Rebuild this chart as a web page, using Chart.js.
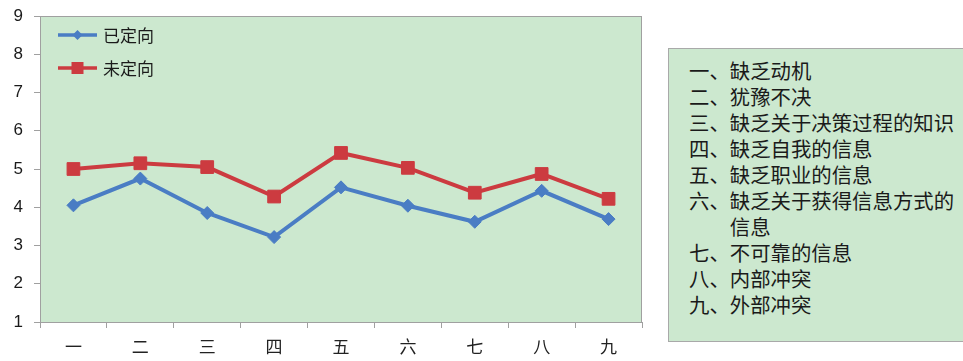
<!DOCTYPE html>
<html>
<head>
<meta charset="utf-8">
<script src="https://cdn.jsdelivr.net/npm/chart.js@4/dist/chart.umd.min.js"></script>
<style>
  html, body { margin: 0; padding: 0; background: #ffffff; }
  #wrap { position: relative; width: 963px; height: 361px; overflow: hidden; }
  #c { position: absolute; left: 0; top: 0; }
  #notes {
    position: absolute; left: 668px; top: 48px; width: 310px; height: 294px;
    background: #cce8cf; border: 1px solid #a9a9a9; box-sizing: border-box;
    padding: 8px 0 0 20px;
    font-family: "Noto Sans CJK SC", sans-serif; font-size: 20.4px; line-height: 26px; color: #1a1a1a;
  }
  #notes div { width: 232px; padding-left: 2em; text-indent: -2em; }
</style>
</head>
<body>
<div id="wrap">
  <canvas id="c" width="963" height="361"></canvas>
  <div id="notes"></div>
</div>
<script>
const categories = ['一', '二', '三', '四', '五', '六', '七', '八', '九'];
const seriesNames = ['已定向', '未定向'];
const orientedValues = [4.05, 4.75, 3.85, 3.22, 4.52, 4.04, 3.62, 4.43, 3.69];
const unorientedValues = [5.00, 5.15, 5.05, 4.28, 5.42, 5.03, 4.38, 4.87, 4.22];
const yMin = 1;
const yMax = 9;
const yStep = 1;
const noteLines = [
  '一、缺乏动机',
  '二、犹豫不决',
  '三、缺乏关于决策过程的知识',
  '四、缺乏自我的信息',
  '五、缺乏职业的信息',
  '六、缺乏关于获得信息方式的信息',
  '七、不可靠的信息',
  '八、内部冲突',
  '九、外部冲突'
];

const notesEl = document.getElementById('notes');
noteLines.forEach(t => {
  const d = document.createElement('div');
  d.textContent = t;
  notesEl.appendChild(d);
});

const BLUE = '#4a7dc4';
const RED = '#cc3b40';
const PLOT_BG = '#cce8cf';
const BORDER = '#a0a0a0';

const areaPlugin = {
  id: 'areaPlugin',
  beforeDraw(chart) {
    const a = chart.chartArea;
    const ctx = chart.ctx;
    ctx.save();
    ctx.fillStyle = PLOT_BG;
    ctx.fillRect(a.left, a.top, a.right - a.left, a.bottom - a.top);
    ctx.restore();
  },
  afterDraw(chart) {
    const a = chart.chartArea;
    const ctx = chart.ctx;
    ctx.save();
    ctx.strokeStyle = BORDER;
    ctx.lineWidth = 1;
    ctx.strokeRect(a.left + 0.5, a.top + 0.5, a.right - a.left - 1, a.bottom - a.top);
    // legend
    const items = chart.data.datasets;
    const x0 = a.left + 18, x1 = a.left + 57;
    items.forEach((ds, i) => {
      const y = a.top + 19 + i * 33;
      ctx.strokeStyle = ds.borderColor;
      ctx.lineWidth = 3.5;
      ctx.beginPath();
      ctx.moveTo(x0, y);
      ctx.lineTo(x1, y);
      ctx.stroke();
      const cx = (x0 + x1) / 2;
      ctx.fillStyle = ds.pointBackgroundColor;
      ctx.beginPath();
      if (ds.pointStyle === 'rect') {
        ctx.rect(cx - 6, y - 6, 12, 12);
      } else {
        const r = 5;
        ctx.moveTo(cx, y - r); ctx.lineTo(cx + r, y); ctx.lineTo(cx, y + r); ctx.lineTo(cx - r, y);
        ctx.closePath();
      }
      ctx.fill();
      ctx.fillStyle = '#1a1a1a';
      ctx.font = '17px "Noto Sans CJK SC", sans-serif';
      ctx.textBaseline = 'middle';
      ctx.textAlign = 'left';
      ctx.fillText(ds.label, x1 + 6, y + 1);
    });
    ctx.restore();
  }
};

new Chart(document.getElementById('c'), {
  type: 'line',
  data: {
    labels: categories,
    datasets: [
      {
        label: seriesNames[0],
        data: orientedValues,
        borderColor: BLUE,
        backgroundColor: BLUE,
        pointBackgroundColor: BLUE,
        pointBorderColor: BLUE,
        borderWidth: 4,
        pointStyle: 'rectRot',
        pointRadius: 6.5,
        pointBorderWidth: 1,
        tension: 0
      },
      {
        label: seriesNames[1],
        data: unorientedValues,
        borderColor: RED,
        backgroundColor: RED,
        pointBackgroundColor: RED,
        pointBorderColor: RED,
        borderWidth: 4,
        pointStyle: 'rect',
        pointRadius: 9,
        pointBorderWidth: 1,
        tension: 0
      }
    ]
  },
  options: {
    responsive: false,
    animation: false,
    devicePixelRatio: 1,
    layout: { padding: { left: 0, top: 16, right: 321, bottom: 0 } },
    plugins: { legend: { display: false }, tooltip: { enabled: false } },
    scales: {
      x: {
        offset: true,
        grid: { display: true, drawOnChartArea: false, drawTicks: true, tickLength: 6, color: BORDER, offset: true },
        border: { display: true, color: BORDER },
        ticks: { color: '#222', font: { family: '"Noto Sans CJK SC", sans-serif', size: 17 }, padding: 8, maxRotation: 0 },
        afterFit(s) { s.height = 39; s.paddingLeft = 0; s.paddingRight = 0; }
      },
      y: {
        min: yMin, max: yMax,
        grid: { display: true, drawOnChartArea: false, drawTicks: true, tickLength: 6, color: BORDER },
        border: { display: true, color: BORDER },
        ticks: { stepSize: yStep, color: '#1a1a1a', font: { family: '"Liberation Sans", Arial, sans-serif', size: 17 }, padding: 11 },
        afterFit(s) { s.width = 40; s.paddingTop = 0; s.paddingBottom = 0; }
      }
    }
  },
  plugins: [areaPlugin]
});
</script>
</body>
</html>
